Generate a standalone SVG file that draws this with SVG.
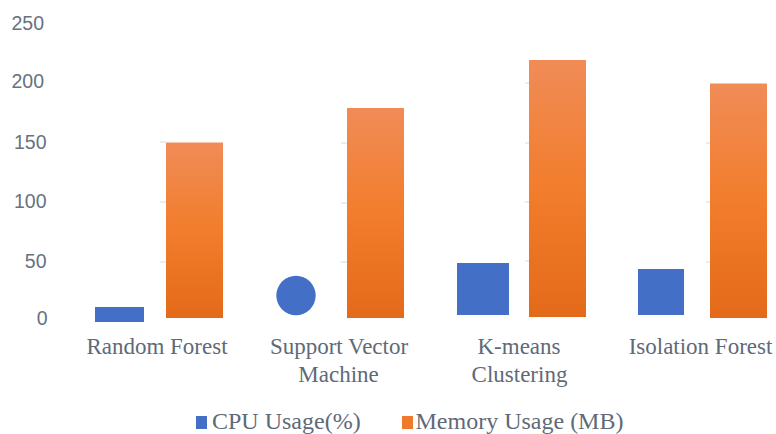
<svg xmlns="http://www.w3.org/2000/svg" width="776" height="434" viewBox="0 0 776 434">
<defs>
<linearGradient id="og" x1="0" y1="0" x2="0" y2="1">
<stop offset="0" stop-color="#f08c57"/>
<stop offset="0.5" stop-color="#f27d2c"/>
<stop offset="1" stop-color="#e36a18"/>
</linearGradient>
<style>
.ax{font-family:"Liberation Sans",Arial,sans-serif;font-size:19.5px;fill:#67727f;text-anchor:end}
.cat{font-family:"Liberation Serif","Times New Roman",serif;font-size:23px;fill:#5e6a78;text-anchor:middle}
.leg{font-family:"Liberation Serif","Times New Roman",serif;font-size:24px;fill:#5e6a78}
.cpu{fill:#4370c6}
.mem{fill:url(#og)}
.grid{stroke:#e2e7ee;stroke-width:1.5}
</style>
</defs>
<rect width="776" height="434" fill="#ffffff"/>
<g id="axis">
<text class="ax" x="44" y="30">250</text>
<text class="ax" x="44" y="88">200</text>
<text class="ax" x="46.5" y="149">150</text>
<text class="ax" x="46.5" y="208">100</text>
<text class="ax" x="46.5" y="268">50</text>
<text class="ax" x="47.5" y="325">0</text>
</g>
<g id="gridlines">
<line class="grid" x1="160" y1="142" x2="166" y2="142"/>
<line class="grid" x1="160" y1="202" x2="166" y2="202"/>
<line class="grid" x1="160" y1="262" x2="166" y2="262"/>
<line class="grid" x1="341" y1="143" x2="347" y2="143"/>
<line class="grid" x1="341" y1="203" x2="347" y2="203"/>
<line class="grid" x1="341" y1="262" x2="347" y2="262"/>
<line class="grid" x1="525" y1="83" x2="529" y2="83"/>
<line class="grid" x1="525" y1="143" x2="529" y2="143"/>
<line class="grid" x1="525" y1="202" x2="529" y2="202"/>
<line class="grid" x1="525" y1="261" x2="529" y2="261"/>
<line class="grid" x1="706" y1="143" x2="710" y2="143"/>
<line class="grid" x1="706" y1="202" x2="710" y2="202"/>
<line class="grid" x1="706" y1="262" x2="710" y2="262"/>
</g>
<g id="random-forest">
<rect class="cpu" x="95" y="307" width="49" height="15"/>
<rect class="mem" x="166" y="142.5" width="57" height="175.5"/>
<text class="cat" x="157" y="354">Random Forest</text>
</g>
<g id="svm">
<circle class="cpu" cx="296" cy="295.5" r="19.7"/>
<rect class="mem" x="347" y="108" width="57" height="210"/>
<text class="cat" x="339" y="354">Support Vector</text>
<text class="cat" x="338.5" y="382">Machine</text>
</g>
<g id="kmeans">
<rect class="cpu" x="457" y="263" width="52" height="52"/>
<rect class="mem" x="529" y="60" width="57" height="257"/>
<text class="cat" x="519" y="354">K-means</text>
<text class="cat" x="519.5" y="382">Clustering</text>
</g>
<g id="isolation-forest">
<rect class="cpu" x="638" y="269" width="46" height="46"/>
<rect class="mem" x="710" y="83.5" width="57" height="234.5"/>
<text class="cat" x="700.5" y="354">Isolation Forest</text>
</g>
<g id="legend">
<rect class="cpu" x="196" y="416" width="11" height="13"/>
<text class="leg" x="212" y="428.5">CPU Usage(%)</text>
<rect fill="#ef7a2b" x="402" y="416" width="11" height="13"/>
<text class="leg" x="415.5" y="428.5">Memory Usage (MB)</text>
</g>
</svg>
